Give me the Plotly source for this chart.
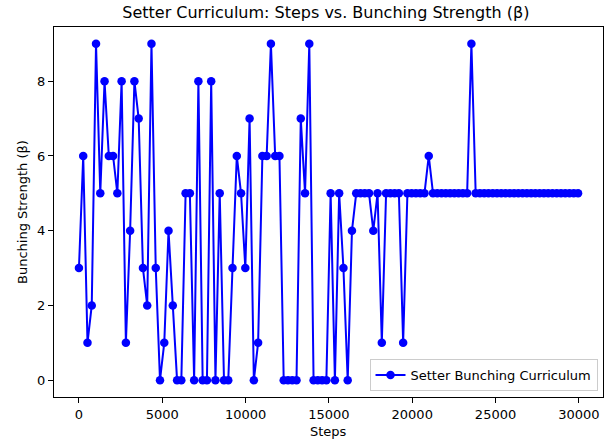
import plotly.graph_objects as go

step_interval = 256
beta_values = [
    3, 6, 1, 2, 9, 5, 8, 6, 6, 5,
    8, 1, 4, 8, 7, 3, 2, 9, 3, 0,
    1, 4, 2, 0, 0, 5, 5, 0, 8, 0,
    0, 8, 0, 5, 0, 0, 3, 6, 5, 3,
    7, 0, 1, 6, 6, 9, 6, 6, 0, 0,
    0, 0, 7, 5, 9, 0, 0, 0, 0, 5,
    0, 5, 3, 0, 4, 5, 5, 5, 5, 4,
    5, 1, 5, 5, 5, 5, 1, 5, 5, 5,
    5, 5, 6, 5, 5, 5, 5, 5, 5, 5,
    5, 5, 9, 5, 5, 5, 5, 5, 5, 5,
    5, 5, 5, 5, 5, 5, 5, 5, 5, 5,
    5, 5, 5, 5, 5, 5, 5, 5,
]
steps = [i * step_interval for i in range(len(beta_values))]
x_ticks = [0, 5000, 10000, 15000, 20000, 25000, 30000]
y_ticks = [0, 2, 4, 6, 8]

fig = go.Figure()
fig.add_trace(go.Scatter(
    x=steps, y=beta_values, mode="lines+markers",
    name="Setter Bunching Curriculum",
    line=dict(color="#0000ff", width=2),
    marker=dict(color="#0000ff", size=8.5, symbol="circle"),
))

xmin, xmax = min(steps), max(steps)
xpad = (xmax - xmin) * 0.05
ymin, ymax = min(beta_values), max(beta_values)
ypad = (ymax - ymin) * 0.05

font_family = "DejaVu Sans"
fig.update_layout(
    width=609, height=442,
    margin=dict(l=54, r=6, t=27, b=45, autoexpand=False),
    paper_bgcolor="white", plot_bgcolor="white",
    font=dict(family=font_family, color="black", size=13),
    title=dict(text="Setter Curriculum: Steps vs. Bunching Strength (β)",
               x=0.535, xanchor="center", y=0.972, yanchor="middle",
               font=dict(size=16, color="black")),
    xaxis=dict(range=[xmin - xpad, xmax + xpad], tickvals=x_ticks,
               ticktext=[str(v) for v in x_ticks], automargin=False,
               showline=True, linecolor="black", linewidth=1, mirror=True,
               ticks="outside", ticklen=5, tickcolor="black", showgrid=False,
               zeroline=False),
    yaxis=dict(range=[ymin - ypad, ymax + ypad], tickvals=y_ticks, automargin=False,
               showline=True, linecolor="black", linewidth=1, mirror=True,
               ticks="outside", ticklen=5, tickcolor="black", showgrid=False,
               zeroline=False),
    legend=dict(x=0.99, y=0.016, xanchor="right", yanchor="bottom",
                bordercolor="#cccccc", borderwidth=1, bgcolor="rgba(255,255,255,0.8)",
                font=dict(size=13)),
    showlegend=True,
    annotations=[
        dict(text="Steps", xref="paper", yref="paper", x=0.5, y=-0.0,
             yshift=-34, xanchor="center", yanchor="middle", showarrow=False,
             font=dict(size=13)),
        dict(text="Bunching Strength (β)", xref="paper", yref="paper", x=0, y=0.5,
             xshift=-32, xanchor="center", yanchor="middle", textangle=-90,
             showarrow=False, font=dict(size=13)),
    ],
)
fig.write_html(
    "out.html",
    config={"displayModeBar": False},
    post_script="document.body.style.margin='0';document.body.style.overflow='hidden';",
)
